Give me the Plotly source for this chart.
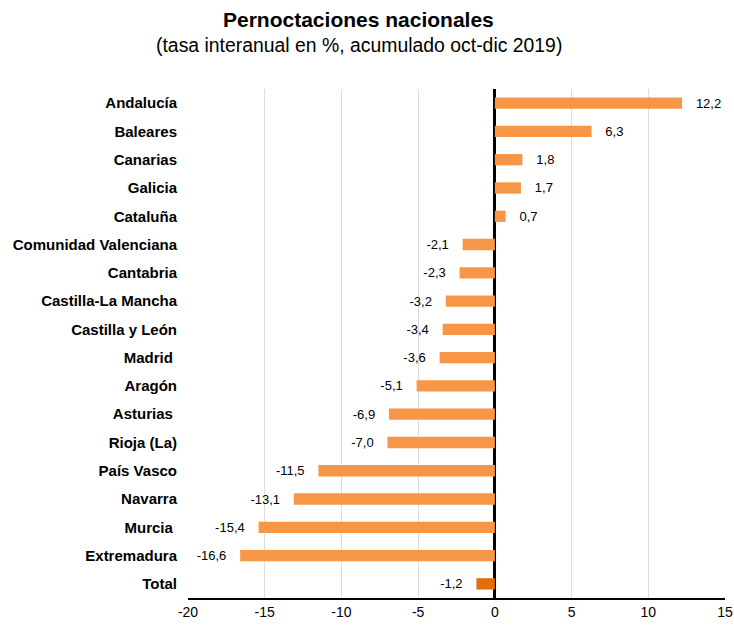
import plotly.graph_objects as go

categories = ["Andalucía", "Baleares", "Canarias", "Galicia", "Cataluña",
              "Comunidad Valenciana", "Cantabria", "Castilla-La Mancha",
              "Castilla y León", "Madrid\u00a0", "Aragón", "Asturias\u00a0",
              "Rioja (La)", "País Vasco", "Navarra", "Murcia\u00a0",
              "Extremadura", "Total"]
values = [12.2, 6.3, 1.8, 1.7, 0.7, -2.1, -2.3, -3.2, -3.4, -3.6, -5.1,
          -6.9, -7.0, -11.5, -13.1, -15.4, -16.6, -1.2]
x_ticks = [-20, -15, -10, -5, 0, 5, 10, 15]

BAR = "#F79646"
TOTAL = "#E46C0A"
colors = [TOTAL if c == "Total" else BAR for c in categories]

pad = "\u00a0\u00a0\u00a0"
labels = []
for v in values:
    s = f"{v:.1f}".replace(".", ",")
    labels.append(pad + s if v >= 0 else s + pad)

FONT = "Liberation Sans, Arial, Helvetica, sans-serif"

fig = go.Figure(go.Bar(
    x=values, y=categories, orientation="h",
    marker=dict(color=colors, line=dict(width=0)),
    width=0.4,
    text=labels, textposition="outside", constraintext="none",
    textfont=dict(family=FONT, size=13, color="#000000"),
    cliponaxis=False, hoverinfo="skip",
))

fig.update_layout(
    width=734, height=625, autosize=False,
    margin=dict(l=188, r=9, t=89, b=27, pad=0),
    paper_bgcolor="white", plot_bgcolor="white",
    showlegend=False,
    font=dict(family=FONT, color="#000000"),
    annotations=[
        dict(text="<b>Pernoctaciones nacionales</b>", x=0.318, y=1.1356,
             xref="paper", yref="paper", xanchor="center", yanchor="middle",
             showarrow=False, font=dict(family=FONT, size=21, color="#000")),
        dict(text="(tasa interanual en %, acumulado oct-dic 2019)", x=0.318,
             y=1.0865, xref="paper", yref="paper", xanchor="center",
             yanchor="middle", showarrow=False,
             font=dict(family=FONT, size=19.4, color="#000")),
    ],
)

fig.update_xaxes(
    range=[-20, 15], tickvals=x_ticks, ticktext=[str(t) for t in x_ticks],
    showgrid=True, gridcolor="#DCDCDC", gridwidth=1,
    zeroline=True, zerolinecolor="#000000", zerolinewidth=3,
    showline=True, linecolor="#000000", linewidth=1.5,
    ticks="", tickfont=dict(family=FONT, size=14, color="#000"),
    automargin=False,
)
fig.update_yaxes(
    categoryorder="array", categoryarray=categories, autorange="reversed",
    showgrid=False, zeroline=False, showline=False, ticks="",
    ticklabelstandoff=10,
    tickfont=dict(family=FONT, size=15, color="#000", weight="bold"),
    automargin=False,
)

fig.write_html(
    "out.html",
    config={"displayModeBar": False},
    post_script="document.body.style.margin='0';document.body.style.overflow='hidden';",
)
